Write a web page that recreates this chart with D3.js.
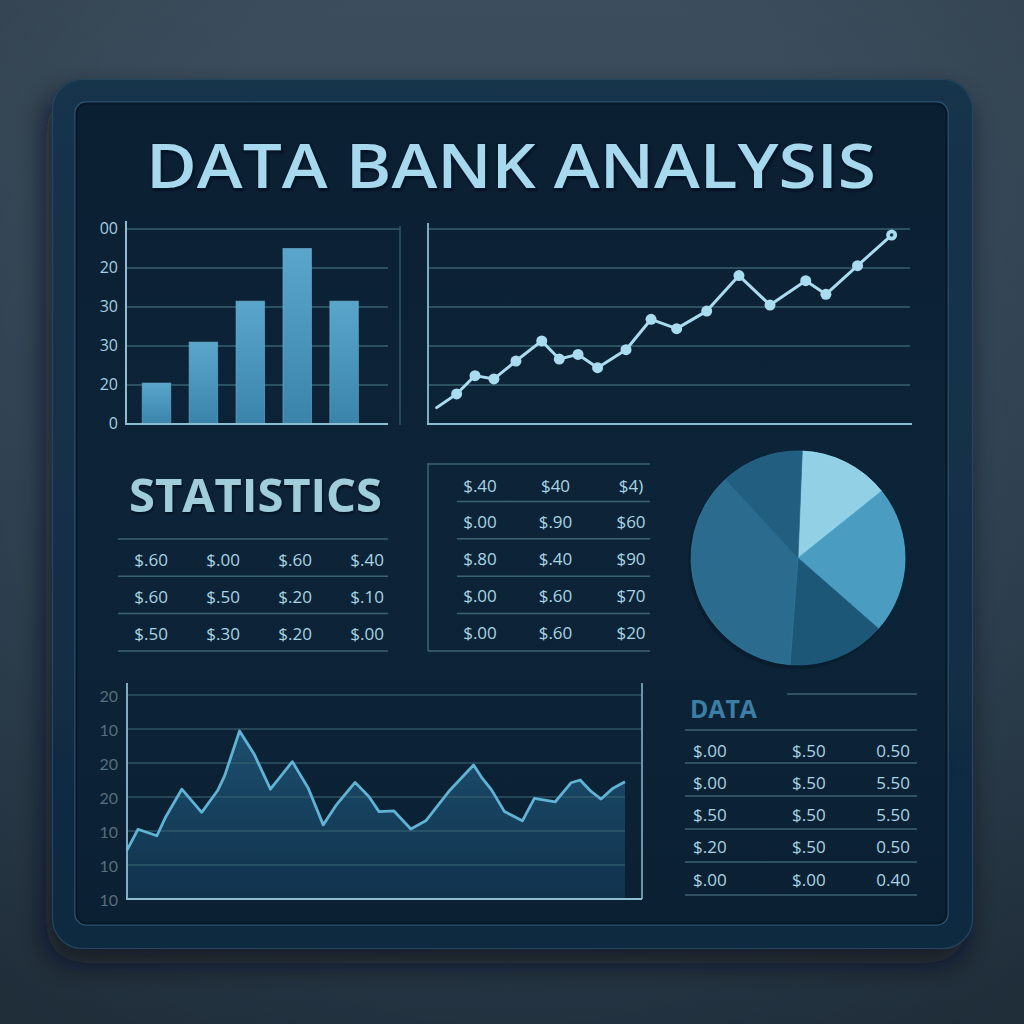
<!DOCTYPE html>
<html><head><meta charset="utf-8">
<script src="https://cdn.jsdelivr.net/npm/d3@7"></script>
<style>html,body{margin:0;padding:0;background:#2c3c4b;} svg{display:block}</style>
</head><body><svg id="c" width="1024" height="1024"></svg>
<script>
// ---------- DATA ----------
const titleText = "DATA BANK ANALYSIS";
const barCategories = ["Q1","Q2","Q3","Q4","Q5"];
const barValues = [21, 42, 63, 90, 63];
const barTickValues = [0, 20, 40, 60, 80, 100];
const barTickLabels = ["0", "20", "30", "30", "20", "00"];
const lineX = [0.43,1.42,2.33,3.27,4.36,5.64,6.51,7.44,8.41,9.82,11.06,12.33,13.82,15.42,16.96,18.73,19.73,21.3,22.99];
const lineY = [8.4,15.4,24.8,23.1,32.3,42.6,33.3,35.7,28.9,38.1,53.7,48.9,57.9,76.1,61,73.5,66.5,81.2,96.9];
const areaX = [0,1.1,3.0,3.9,5.5,7.5,9.1,9.8,11.3,12.8,14.4,16.6,18.2,19.7,21.0,22.9,24.3,25.3,26.8,28.5,30.0,32.3,34.8,35.6,36.6,37.9,39.7,40.9,43.0,44.6,45.5,46.5,47.6,48.8,50];
const areaY = [14.4,20.5,18.6,24.2,32.3,25.5,31.9,36.2,49.4,42.4,32.3,40.4,32.6,21.8,27.6,34.3,30.1,25.7,25.9,20.6,23.0,31.6,39.4,35.8,32.1,25.7,23.0,29.6,28.6,34.2,35.0,31.9,29.4,32.6,34.5];
const areaTickValues = [0, 10, 20, 30, 40, 50, 60];
const areaTickLabels = ["10", "10", "10", "20", "20", "10", "20"];
const pieValues = [49, 80, 53, 133, 45];
const pieColors = ["#92d0e6", "#4a9cc0", "#1d5777", "#2b6b8e", "#215e80"];
const statsTitle = "STATISTICS";
const statsRows = [["$.60","$.00","$.60","$.40"],["$.60","$.50","$.20","$.10"],["$.50","$.30","$.20","$.00"]];
const midRows = [["$.40","$40","$4)"],["$.00","$.90","$60"],["$.80","$.40","$90"],["$.00","$.60","$70"],["$.00","$.60","$20"]];
const dataTitle = "DATA";
const dataRows = [["$.00","$.50","0.50"],["$.00","$.50","5.50"],["$.50","$.50","5.50"],["$.20","$.50","0.50"],["$.00","$.00","0.40"]];

// ---------- SETUP ----------
const svg = d3.select("#c");
const defs = svg.append("defs");
const FONT = "'Open Sans', 'DejaVu Sans', sans-serif";
const TXT = "#a8d5e3";
const GRID = "#36606e";
const AXIS = "#8dbdd1";

function lin(id, stops, x1=0,y1=0,x2=0,y2=1){
  const g = defs.append("linearGradient").attr("id",id).attr("x1",x1).attr("y1",y1).attr("x2",x2).attr("y2",y2);
  stops.forEach(s=>g.append("stop").attr("offset",s[0]).attr("stop-color",s[1]).attr("stop-opacity",s[2]==null?1:s[2]));
}
lin("bg", [[0,"#3c4e5e"],[0.5,"#314454"],[1,"#263746"]]);
lin("frame", [[0,"#16344c"],[1,"#102a40"]]);
lin("screen", [[0,"#0b1f32"],[0.5,"#0d2438"],[1,"#0b2033"]]);
lin("barG", [[0,"#5aa6cb"],[1,"#3a84ac"]]);
lin("areaG", [[0,"#1f5677",0.85],[1,"#113551",0.85]]);
const sh = defs.append("filter").attr("id","shadow").attr("x","-20%").attr("y","-20%").attr("width","140%").attr("height","140%");
sh.append("feDropShadow").attr("dx",-6).attr("dy",14).attr("stdDeviation",14).attr("flood-color","#07111a").attr("flood-opacity",0.7);
const ts = defs.append("filter").attr("id","tshadow").attr("x","-5%").attr("y","-20%").attr("width","110%").attr("height","140%");
ts.append("feDropShadow").attr("dx",1).attr("dy",2).attr("stdDeviation",1.2).attr("flood-color","#03101b").attr("flood-opacity",0.9);
const vg = defs.append("radialGradient").attr("id","vig").attr("cx","50%").attr("cy","40%").attr("r","75%");
vg.append("stop").attr("offset",0.55).attr("stop-color","#000").attr("stop-opacity",0);
vg.append("stop").attr("offset",1).attr("stop-color","#000").attr("stop-opacity",0.18);

svg.append("rect").attr("width",1024).attr("height",1024).attr("fill","url(#bg)");
svg.append("rect").attr("width",1024).attr("height",1024).attr("fill","url(#vig)");

// frame
svg.append("rect").attr("x",52).attr("y",79).attr("width",921).attr("height",870).attr("rx",30)
  .attr("fill","url(#frame)").attr("filter","url(#shadow)");
svg.append("rect").attr("x",52.5).attr("y",79.5).attr("width",920).attr("height",869).attr("rx",30)
  .attr("fill","none").attr("stroke","#24465f").attr("stroke-width",1.2);
svg.append("rect").attr("x",75).attr("y",102).attr("width",873).attr("height",823).attr("rx",11)
  .attr("fill","url(#screen)").attr("stroke","#2a5370").attr("stroke-width",1.5);
svg.append("rect").attr("x",76.5).attr("y",103.5).attr("width",870).attr("height",820).attr("rx",10)
  .attr("fill","none").attr("stroke","#061523").attr("stroke-width",2).attr("opacity",0.8);

// title
svg.append("text").attr("x",146).attr("y",188).attr("textLength",730).attr("lengthAdjust","spacingAndGlyphs")
  .attr("font-family",FONT).attr("font-weight",600).attr("font-size",62)
  .attr("fill","#a6d8ee").attr("stroke","#0a1c2c").attr("stroke-width",1.2).attr("paint-order","stroke")
  .attr("filter","url(#tshadow)").text(titleText);

// ---------- BAR CHART ----------
const yBar = d3.scaleLinear().domain([0,100]).range([424,229]);
const xBar = d3.scaleBand().domain(barCategories).range([126,388]).paddingInner(0.392).paddingOuter(0.489).align(0.354);
const gb = svg.append("g");
gb.selectAll("line.grid").data(barTickValues.slice(1)).join("line")
  .attr("x1",126).attr("x2",(d,i)=> d===100?400:388).attr("y1",d=>yBar(d)).attr("y2",d=>yBar(d))
  .attr("stroke",GRID).attr("stroke-width",1.5);
gb.append("line").attr("x1",400).attr("x2",400).attr("y1",226).attr("y2",425).attr("stroke","#2f5666").attr("stroke-width",1.5);
gb.selectAll("rect.bar").data(barValues).join("rect")
  .attr("x",(d,i)=>xBar(barCategories[i])).attr("width",xBar.bandwidth())
  .attr("y",d=>yBar(d)).attr("height",d=>yBar(0)-yBar(d))
  .attr("fill","url(#barG)").attr("stroke","#6cb3d4").attr("stroke-width",1).attr("stroke-opacity",0.6);
gb.append("line").attr("x1",126).attr("x2",126).attr("y1",221).attr("y2",424).attr("stroke",AXIS).attr("stroke-width",2);
gb.append("line").attr("x1",125).attr("x2",388).attr("y1",424).attr("y2",424).attr("stroke",AXIS).attr("stroke-width",2);
gb.selectAll("text.tick").data(barTickValues).join("text")
  .attr("x",118).attr("y",d=>yBar(d)-1).attr("text-anchor","end").attr("dominant-baseline","central")
  .attr("font-family",FONT).attr("font-size",16).attr("fill","#a3cfe0")
  .text((d,i)=>barTickLabels[i]);

// ---------- LINE CHART ----------
const xLine = d3.scaleLinear().domain([0,24]).range([428,912]);
const yLine = yBar;
const gl = svg.append("g");
gl.selectAll("line.grid").data(barTickValues.slice(1)).join("line")
  .attr("x1",429).attr("x2",910).attr("y1",d=>yLine(d)).attr("y2",d=>yLine(d))
  .attr("stroke",GRID).attr("stroke-width",1.5);
gl.append("line").attr("x1",428).attr("x2",428).attr("y1",223).attr("y2",424).attr("stroke",AXIS).attr("stroke-width",1.8);
gl.append("line").attr("x1",427).attr("x2",912).attr("y1",424).attr("y2",424).attr("stroke",AXIS).attr("stroke-width",1.8);
const lpts = lineX.map((x,i)=>[x,lineY[i]]);
gl.append("path").datum(lpts)
  .attr("d",d3.line().x(d=>xLine(d[0])).y(d=>yLine(d[1])))
  .attr("fill","none").attr("stroke","#a9dcef").attr("stroke-width",3).attr("stroke-linejoin","round").attr("stroke-linecap","round");
gl.selectAll("circle.pt").data(lpts.slice(1)).join("circle")
  .attr("cx",d=>xLine(d[0])).attr("cy",d=>yLine(d[1])).attr("r",5.5).attr("fill","#a9dcef");
const last = lpts[lpts.length-1];
gl.append("circle").attr("cx",xLine(last[0])).attr("cy",yLine(last[1])).attr("r",1.8).attr("fill","#16384f");

// ---------- STATISTICS ----------
svg.append("text").attr("x",129).attr("y",512).attr("textLength",253).attr("lengthAdjust","spacingAndGlyphs")
  .attr("font-family",FONT).attr("font-weight",700).attr("font-size",46)
  .attr("fill","#9fcdd9").attr("filter","url(#tshadow)").text(statsTitle);
const sx = d3.scalePoint().domain(d3.range(4)).range([168,384]);
const sy = d3.scalePoint().domain(d3.range(statsRows.length)).range([559,633]);
const gs = svg.append("g");
gs.selectAll("line").data(d3.range(statsRows.length+1)).join("line")
  .attr("x1",118).attr("x2",388).attr("y1",i=>539+i*37.3).attr("y2",i=>539+i*37.3)
  .attr("stroke","#3c6373").attr("stroke-width",1.5);
statsRows.forEach((row,r)=>{
  gs.selectAll("text.r"+r).data(row).join("text")
    .attr("x",(d,i)=>sx(i)).attr("y",sy(r)).attr("text-anchor","end").attr("dominant-baseline","central")
    .attr("font-family",FONT).attr("font-size",17).attr("fill",TXT).text(d=>d);
});

// ---------- MIDDLE TABLE ----------
const mx = d3.scalePoint().domain(d3.range(3)).range([480,631]);
const my = d3.scalePoint().domain(d3.range(midRows.length)).range([485,632]);
const gm = svg.append("g");
gm.append("line").attr("x1",428).attr("x2",428).attr("y1",463).attr("y2",651).attr("stroke","#3c6373").attr("stroke-width",1.5);
gm.selectAll("line.h").data(d3.range(midRows.length+1)).join("line")
  .attr("x1",i=> (i===0||i===midRows.length)?428:457).attr("x2",650)
  .attr("y1",i=>464+i*37.4).attr("y2",i=>464+i*37.4)
  .attr("stroke","#3c6373").attr("stroke-width",1.5);
midRows.forEach((row,r)=>{
  gm.selectAll("text.r"+r).data(row).join("text")
    .attr("x",(d,i)=>mx(i)).attr("y",my(r)).attr("text-anchor","middle").attr("dominant-baseline","central")
    .attr("font-family",FONT).attr("font-size",17).attr("fill",TXT).text(d=>d);
});

// ---------- PIE ----------
const pie = d3.pie().sort(null).startAngle(0.04).endAngle(0.04+2*Math.PI);
const arc = d3.arc().innerRadius(0).outerRadius(107);
const gp = svg.append("g").attr("transform","translate(798,558)");
gp.append("circle").attr("r",108).attr("fill","#061522").attr("opacity",0.35).attr("transform","translate(-2,3)");
gp.selectAll("path").data(pie(pieValues)).join("path")
  .attr("d",arc).attr("fill",(d,i)=>pieColors[i]).attr("stroke",(d,i)=>d3.color(pieColors[i]).brighter(0.3)).attr("stroke-width",0.8);

// ---------- AREA CHART ----------
const xA = d3.scaleLinear().domain([0,50]).range([127,625]);
const yA = d3.scaleLinear().domain([0,60]).range([899,695]);
const ga = svg.append("g");
const apts = areaX.map((x,i)=>[x,areaY[i]]);
ga.append("path").datum(apts)
  .attr("d",d3.area().x(d=>xA(d[0])).y0(yA(0)).y1(d=>yA(d[1])))
  .attr("fill","url(#areaG)");
ga.selectAll("line.grid").data(areaTickValues.slice(1)).join("line")
  .attr("x1",127).attr("x2",d=> d>=40?641:625).attr("y1",d=>yA(d)).attr("y2",d=>yA(d))
  .attr("stroke",GRID).attr("stroke-width",1.5).attr("stroke-opacity",0.8);
ga.append("path").datum(apts)
  .attr("d",d3.line().x(d=>xA(d[0])).y(d=>yA(d[1])))
  .attr("fill","none").attr("stroke","#5fb4d5").attr("stroke-width",2.8).attr("stroke-linejoin","round");
ga.append("line").attr("x1",127).attr("x2",127).attr("y1",683).attr("y2",899).attr("stroke",AXIS).attr("stroke-width",1.8);
ga.append("line").attr("x1",642).attr("x2",642).attr("y1",683).attr("y2",899).attr("stroke",AXIS).attr("stroke-width",1.5);
ga.append("line").attr("x1",126).attr("x2",642).attr("y1",899).attr("y2",899).attr("stroke",AXIS).attr("stroke-width",1.8);
ga.selectAll("text.tick").data(areaTickValues).join("text")
  .attr("x",118).attr("y",d=>yA(d)).attr("text-anchor","end").attr("dominant-baseline","central")
  .attr("font-family","Lato, 'Open Sans', sans-serif").attr("font-size",16).attr("fill","#566f7e")
  .text((d,i)=>areaTickLabels[i]);

// ---------- DATA TABLE ----------
svg.append("text").attr("x",690).attr("y",718).attr("textLength",67).attr("lengthAdjust","spacingAndGlyphs")
  .attr("font-family",FONT).attr("font-weight",700).attr("font-size",25).attr("fill","#3d7ea5").text(dataTitle);
const gd = svg.append("g");
gd.append("line").attr("x1",787).attr("x2",917).attr("y1",694).attr("y2",694).attr("stroke","#3c6373").attr("stroke-width",1.5);
gd.selectAll("line.h").data(d3.range(dataRows.length+1)).join("line")
  .attr("x1",685).attr("x2",917).attr("y1",i=>730+i*33).attr("y2",i=>730+i*33)
  .attr("stroke","#3c6373").attr("stroke-width",1.5);
const dy = d3.scalePoint().domain(d3.range(dataRows.length)).range([750,879]);
const dCols = [{x:693,a:"start"},{x:792,a:"start"},{x:910,a:"end"}];
dataRows.forEach((row,r)=>{
  gd.selectAll("text.r"+r).data(row).join("text")
    .attr("x",(d,i)=>dCols[i].x).attr("y",dy(r)).attr("text-anchor",(d,i)=>dCols[i].a).attr("dominant-baseline","central")
    .attr("font-family",FONT).attr("font-size",17).attr("fill",TXT).text(d=>d);
});
</script>
</body></html>
